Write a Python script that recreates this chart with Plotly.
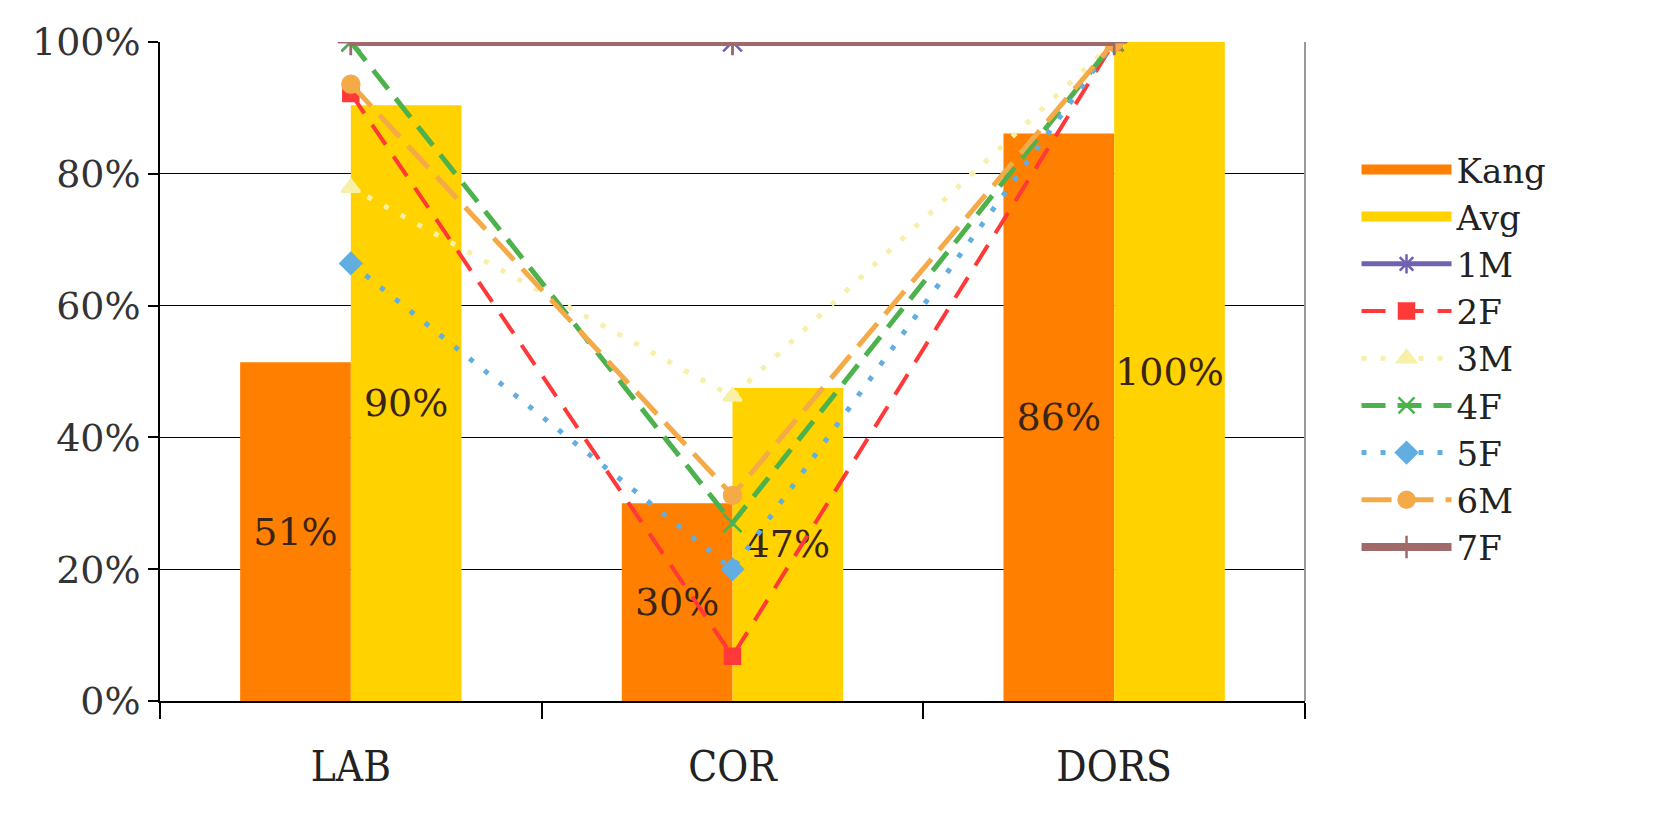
import plotly.graph_objects as go

categories = ["LAB", "COR", "DORS"]
kang = [0.514, 0.300, 0.861]
avg = [0.904, 0.475, 1.0]
kang_text = ["51%", "30%", "86%"]
avg_text = ["90%", "47%", "100%"]
s1M = [1.0, 1.0, 1.0]
s2F = [0.922, 0.068, 1.0]
s3M = [0.779, 0.462, 1.0]
s4F = [1.0, 0.27, 1.0]
s5F = [0.664, 0.20, 1.0]
s6M = [0.936, 0.312, 1.0]
s7F = [1.0, 1.0, 1.0]

FONT = "DejaVu Serif"
KANG_COL = "#FF7F00"
AVG_COL = "#FFD200"
fig = go.Figure()
fig.add_trace(go.Bar(name="Kang", x=categories, y=kang, text=kang_text,
                     textposition="inside", insidetextanchor="middle",
                     textangle=0, constraintext="none",
                     legendgroup="Kang", showlegend=False,
                     marker=dict(color=KANG_COL, line=dict(width=0)),
                     textfont=dict(family=FONT, size=38, color="#3a2418")))
fig.add_trace(go.Bar(name="Avg", x=categories, y=avg, text=avg_text,
                     textposition="inside", insidetextanchor="middle",
                     textangle=0, constraintext="none",
                     legendgroup="Avg", showlegend=False,
                     marker=dict(color=AVG_COL, line=dict(width=0)),
                     textfont=dict(family=FONT, size=38, color="#3a2418")))
# legend swatches for the bars
for name, col in [("Kang", KANG_COL), ("Avg", AVG_COL)]:
    fig.add_trace(go.Scatter(name=name, x=[None], y=[None], mode="lines",
                             legendgroup=name,
                             line=dict(color=col, width=30)))

lines = [
    ("1M", s1M, "#7260B0", "solid", "asterisk-open", 5, 22),
    ("2F", s2F, "#FF3838", "24px,14px", "square", 4, 15),
    ("3M", s3M, "#F6F0A8", "5px,14px", "triangle-up", 5, 16),
    ("4F", s4F, "#4DB24D", "24px,12px", "x-thin-open", 5, 18),
    ("5F", s5F, "#62AEE0", "5px,14px", "diamond", 5, 16),
    ("6M", s6M, "#F5AA48", "30px,12px", "circle", 5, 17),
    ("7F", s7F, "#A06A6A", "solid", "cross-thin-open", 8, 18),
]
for name, vals, col, dash, sym, w, ms in lines:
    fig.add_trace(go.Scatter(name=name, x=categories, y=vals, mode="lines+markers",
                             line=dict(color=col, dash=dash, width=w),
                             marker=dict(symbol=sym, size=ms, color=col,
                                         line=dict(color=col, width=2.5))))

fig.update_layout(
    width=1665, height=822,
    margin=dict(l=152, r=368, t=30, b=129),
    paper_bgcolor="white", plot_bgcolor="white",
    barmode="group", bargap=0.42, bargroupgap=0,
    font=dict(family=FONT, size=38, color="#333333"),
    showlegend=True,
    legend=dict(x=1.045, xanchor="left", y=0.52, yanchor="middle",
                font=dict(family=FONT, size=34, color="#222222"),
                itemwidth=90, tracegroupgap=0, bgcolor="rgba(0,0,0,0)"),
    xaxis=dict(showline=True, linecolor="black", linewidth=1.5,
               ticks="outside", tickson="boundaries", ticklen=16, tickcolor="black",
               tickwidth=1.5, showgrid=False, ticklabelstandoff=28,
               tickfont=dict(family="DejaVu Serif Condensed, " + FONT, size=42, color="#222222")),
    yaxis=dict(range=[0, 1.0], tickformat=".0%", dtick=0.2,
               showline=True, linecolor="black", linewidth=1.5,
               ticks="outside", ticklen=10, tickcolor="black", tickwidth=1.5,
               showgrid=True, gridcolor="black", gridwidth=1.3,
               zeroline=False,
               tickfont=dict(family=FONT, size=38, color="#333333")),
    shapes=[dict(type="line", xref="paper", yref="paper", x0=1, x1=1, y0=0, y1=1,
                 line=dict(color="#9a9a9a", width=2))],
)
fig.write_html("out.html")
